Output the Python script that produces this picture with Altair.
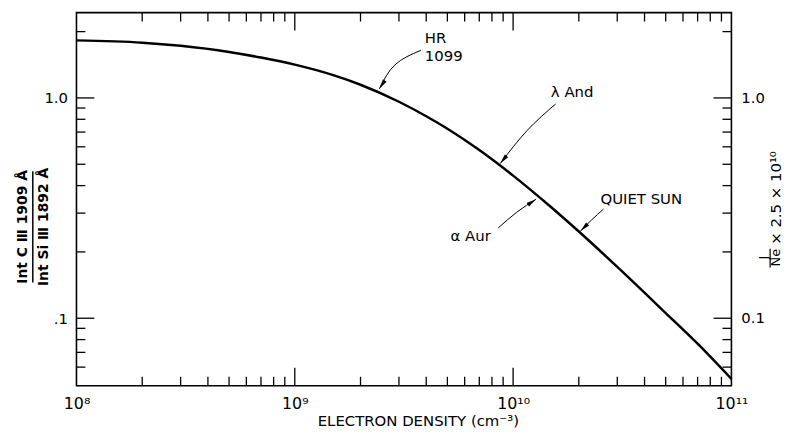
import math
import altair as alt
import pandas as pd

# ---- data ----
density = [1e8, 2e8, 3e8, 5e8, 7e8, 1e9, 1.5e9, 2e9, 3e9, 4e9, 5e9, 7e9,
           1e10, 1.5e10, 2e10, 3e10, 5e10, 7e10, 1e11]
ratio = [1.825, 1.782, 1.724, 1.617, 1.525, 1.416, 1.269, 1.148, 0.961, 0.826,
         0.725, 0.580, 0.444, 0.318, 0.2475, 0.171, 0.1056, 0.0766, 0.0530]

x_major_ticks = [1e9, 1e10]
x_minor_ticks = [m * 10 ** e for e in (8, 9, 10) for m in range(2, 10)]
y_major_ticks = [1.0, 0.1]
y_minor_ticks = [2.0, 0.9, 0.8, 0.7, 0.6, 0.5, 0.4, 0.3, 0.2, 0.09, 0.08, 0.07, 0.06]

x_label_values = [1e8, 1e9, 1e10, 1e11]
left_label_values = [1.0, 0.1]
right_label_values = [1.0, 0.1]
right_label_texts = ["1.0", "0.1"]

# annotation arrows (density, ratio) from tail to tip
arrow_names = ["HR", "HR", "HR", "lam", "lam", "lam", "alpha", "alpha", "alpha", "qs", "qs", "qs"]
arrow_x = [3.78e9, 2.88e9, 2.44e9, 1.567e10, 1.16e10, 8.73e9,
           8.55e9, 1.04e10, 1.274e10, 2.594e10, 2.286e10, 2.037e10]
arrow_y = [1.645, 1.415, 1.10, 0.939, 0.712, 0.504,
           0.257, 0.303, 0.347, 0.313, 0.279, 0.249]

label_texts = ["HR", "1099", "λ And", "α Aur", "QUIET SUN"]
label_x = [3.94e9, 3.94e9, 1.489e10, 5.17e9, 2.512e10]
label_y = [1.864, 1.546, 1.064, 0.2365, 0.347]

W, H = 660, 376
FONT = "DejaVu Sans"

xscale = alt.Scale(type="log", domain=[1e8, 1e11], nice=False)
yscale = alt.Scale(type="log", domain=[0.0494, 2.44], nice=False)

xaxis = alt.Axis(
    values=x_label_values,
    labelExpr="'10' + ['⁸','⁹','¹⁰','¹¹'][round(log(datum.value)/LN10) - 8]",
    ticks=False, domain=False, grid=False, labelFlush=False,
    labelPadding=10, labelFontSize=16, labelFont=FONT, labelColor="black",
    title="ELECTRON DENSITY (cm⁻³)", titleFont=FONT, titleFontSize=15,
    titleFontWeight="normal", titleColor="black",
    titleX=344, titleY=28, titleBaseline="top", titleAlign="center",
)
yaxis = alt.Axis(
    values=left_label_values,
    labelExpr="datum.value >= 1 ? '1.0' : '.1'",
    ticks=False, domain=False, grid=False,
    labelPadding=9, labelFontSize=15, labelFont=FONT, labelColor="black",
    title=None,
)


def X(field="n"):
    return alt.X(f"{field}:Q", scale=xscale, axis=xaxis)


def Y(field="r"):
    return alt.Y(f"{field}:Q", scale=yscale, axis=yaxis)


curve_df = pd.DataFrame({"n": density, "r": ratio})
curve = alt.Chart(curve_df).mark_line(
    color="black", strokeWidth=2.5, interpolate="monotone"
).encode(x=X(), y=Y())

layers = [curve]


def xtick_layers(values, length):
    df = pd.DataFrame({"n": values})
    base = alt.Chart(df).mark_rule(color="black", strokeWidth=1.3)
    top = base.encode(x=X(), y=alt.value(0), y2=alt.value(length))
    bot = base.encode(x=X(), y=alt.value(H), y2=alt.value(H - length))
    return [top, bot]


def ytick_layers(values, length):
    df = pd.DataFrame({"r": values})
    base = alt.Chart(df).mark_rule(color="black", strokeWidth=1.3)
    left = base.encode(y=Y(), x=alt.value(0), x2=alt.value(length))
    right = base.encode(y=Y(), x=alt.value(W), x2=alt.value(W - length))
    return [left, right]


layers += xtick_layers(x_major_ticks, 18)
layers += xtick_layers(x_minor_ticks, 9)
layers += ytick_layers(y_major_ticks, 18)
layers += ytick_layers(y_minor_ticks, 9)

# right-hand labels
right_df = pd.DataFrame({"r": right_label_values, "t": right_label_texts})
layers.append(alt.Chart(right_df).mark_text(
    align="left", baseline="middle", fontSize=15, font=FONT, color="black", dx=10
).encode(x=alt.value(W), y=Y(), text="t:N"))

# arrows
arr_df = pd.DataFrame({"g": arrow_names, "n": arrow_x, "r": arrow_y,
                       "i": list(range(len(arrow_names)))})
layers.append(alt.Chart(arr_df).mark_line(
    color="black", strokeWidth=1, interpolate="natural"
).encode(x=X(), y=Y(), detail="g:N", order="i:Q"))

# arrowheads at the tips
heads = []
for k in range(2, len(arrow_names), 3):
    dxp = (math.log10(arrow_x[k]) - math.log10(arrow_x[k - 1])) * 220
    dyp = -(math.log10(arrow_y[k]) - math.log10(arrow_y[k - 1])) * 222
    ang = math.degrees(math.atan2(dxp, -dyp)) % 360
    heads.append({"n": arrow_x[k], "r": arrow_y[k], "a": ang})
head_df = pd.DataFrame(heads)
layers.append(alt.Chart(head_df).mark_point(
    shape="M0,0L0.22,1L-0.22,1Z", filled=True, color="black", opacity=1,
    size=400, strokeWidth=0
).encode(x=X(), y=Y(), angle=alt.Angle("a:Q", scale=None)))

# annotation labels
lab_df = pd.DataFrame({"t": label_texts, "n": label_x, "r": label_y})
layers.append(alt.Chart(lab_df).mark_text(
    align="left", baseline="middle", fontSize=15, font=FONT, color="black"
).encode(x=X(), y=Y(), text="t:N"))

# left axis title (fraction)
one = pd.DataFrame({"k": [0]})
for txt, px in [("Int C Ⅲ  1909 Å", -54), ("Int Si Ⅲ  1892 Å", -33)]:
    layers.append(alt.Chart(one).mark_text(
        angle=270, align="center", baseline="middle", fontSize=14, font=FONT,
        color="black", fontWeight="bold", text=txt
    ).encode(x=alt.value(px), y=alt.value(216)))
layers.append(alt.Chart(one).mark_rule(
    color="black", strokeWidth=1.5
).encode(x=alt.value(-44), y=alt.value(160), y2=alt.value(272)))

# right axis title
layers.append(alt.Chart(one).mark_text(
    angle=270, align="left", baseline="middle", fontSize=15, font=FONT,
    color="black", text="×  2.5  ×  10¹⁰"
).encode(x=alt.value(705), y=alt.value(234)))
for txt, px in [("J", 693), ("Ne", 705)]:
    layers.append(alt.Chart(one).mark_text(
        angle=270, align="center", baseline="middle", fontSize=13, font=FONT,
        color="black", text=txt
    ).encode(x=alt.value(px), y=alt.value(247)))
layers.append(alt.Chart(one).mark_rule(
    color="black", strokeWidth=1.2
).encode(x=alt.value(699), y=alt.value(238), y2=alt.value(257)))

chart = alt.layer(*layers).properties(
    width=W, height=H,
    autosize=alt.AutoSizeParams(type="none"),
    padding={"left": 69, "top": 3, "right": 55, "bottom": 43},
    background="white",
).configure_view(stroke="black", strokeWidth=1.6)

chart.save("out.html", embed_options={"renderer": "svg", "actions": False})
